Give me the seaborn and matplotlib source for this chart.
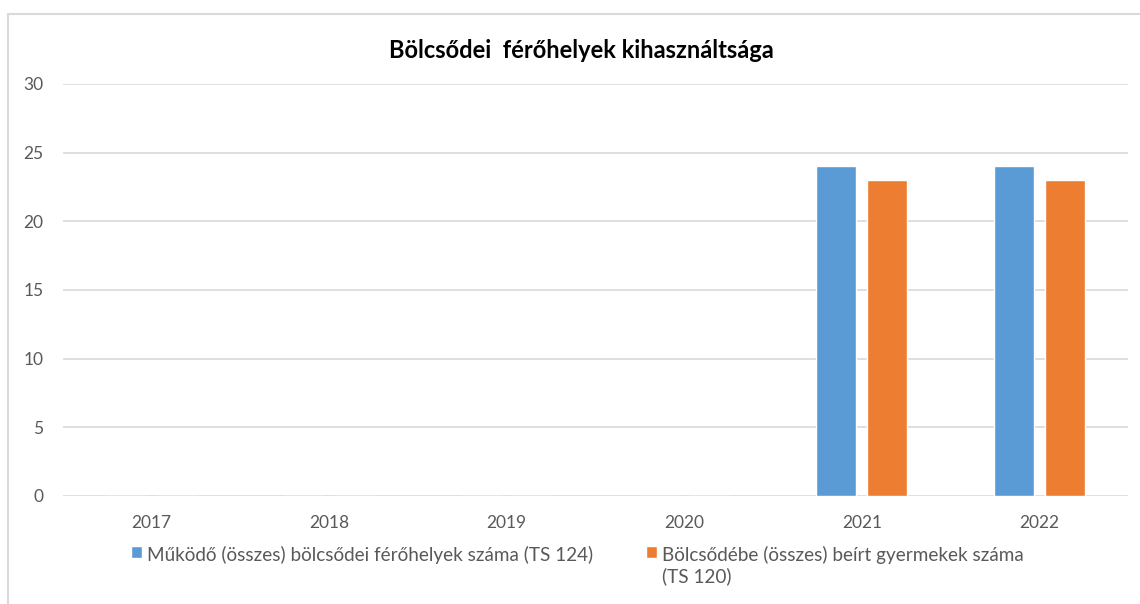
import matplotlib
matplotlib.use("Agg")
import matplotlib.pyplot as plt
import seaborn as sns
import pandas as pd
from matplotlib.patches import Rectangle

years = ["2017", "2018", "2019", "2020", "2021", "2022"]
ferohelyek = [0, 0, 0, 0, 24, 24]
beirt = [0, 0, 0, 0, 23, 23]
series_names = ["Működő (összes) bölcsődei férőhelyek száma (TS 124)",
                "Bölcsődébe (összes) beírt gyermekek száma\n(TS 120)"]
title = "Bölcsődei  férőhelyek kihasználtsága"
colors = ["#5B9BD5", "#ED7D31"]

df = pd.DataFrame({
    "Év": years * 2,
    "Érték": ferohelyek + beirt,
    "Sorozat": [series_names[0]] * len(years) + [series_names[1]] * len(years),
})

sns.set_theme(style="white")
plt.rcParams["font.family"] = ["Lato", "DejaVu Sans"]

fig = plt.figure(figsize=(11.4, 6.04), dpi=100)
ax = fig.add_axes([63 / 1140, 1 - 496 / 604, (1128 - 63) / 1140, (496 - 84) / 604])

sns.barplot(data=df, x="Év", y="Érték", hue="Sorozat", palette=colors,
            width=0.575, gap=0.216, ax=ax, legend=True, saturation=1)

ax.set_ylim(0, 30)
ax.set_yticks(range(0, 31, 5))
ax.set_xlim(-0.5, len(years) - 0.5)
ax.set_xlabel("")
ax.set_ylabel("")
ax.yaxis.grid(True, color="#D9D9D9", linewidth=1.2)
ax.set_axisbelow(True)
for s in ax.spines.values():
    s.set_visible(False)
ax.tick_params(axis="both", length=0, labelsize=12.5, labelcolor="#595959")
ax.tick_params(axis="x", pad=14)
ax.tick_params(axis="y", pad=14)

fig.text(581 / 1140, 1 - 50 / 604, title, ha="center", va="center",
         fontsize=17, fontweight="bold", color="#000000")

handles, labels = ax.get_legend_handles_labels()
ax.get_legend().remove()
leg = fig.legend(handles, labels, loc="upper left", bbox_to_anchor=(131 / 1140, 1 - 546 / 604),
                 ncol=2, frameon=False, fontsize=13.6, handlelength=0.6, handleheight=0.6,
                 handletextpad=0.25, columnspacing=2.8, labelcolor="#595959",
                 borderpad=0, borderaxespad=0)
leg._legend_handle_box.align = "top"
for col in leg._legend_handle_box.get_children():
    for hp in col.get_children():
        hp.align = "top"

fig.patches.append(Rectangle((8 / 1140, -0.1), 1.2, 1 - 14 / 604 + 0.1,
                             transform=fig.transFigure, fill=False,
                             edgecolor="#D9D9D9", linewidth=1.5))

fig.savefig("out.png", dpi=100)
